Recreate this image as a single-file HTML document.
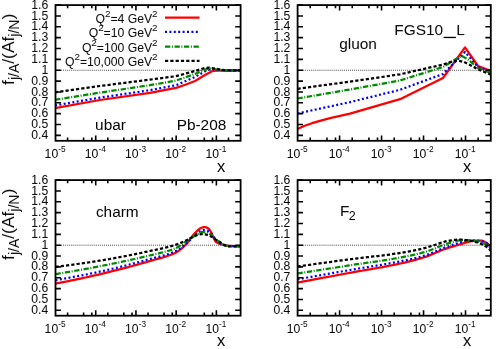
<!DOCTYPE html>
<html><head><meta charset="utf-8"><title>plot</title>
<style>html,body{margin:0;padding:0;background:#fff;}body{width:500px;height:349px;overflow:hidden;font-family:"Liberation Sans",sans-serif;}</style></head>
<body>
<svg width="500" height="349" viewBox="0 0 500 349" style="display:block">
<rect width="500" height="349" fill="#fff"/>
<defs><filter id="idf" x="0" y="0" width="500" height="349" filterUnits="userSpaceOnUse"><feOffset dx="0" dy="0"/></filter>
<clipPath id="c0"><rect x="55.5" y="5.1" width="185.10" height="135.70"/></clipPath>
<clipPath id="c1"><rect x="297.6" y="5.1" width="193.20" height="135.70"/></clipPath>
<clipPath id="c2"><rect x="55.5" y="180.1" width="185.10" height="135.60"/></clipPath>
<clipPath id="c3"><rect x="297.6" y="180.1" width="193.20" height="135.60"/></clipPath>
</defs>
<line x1="57" y1="70.24" x2="240.6" y2="70.24" stroke="#333" stroke-width="0.9" stroke-dasharray="1,1.04"/>
<polyline clip-path="url(#c0)" points="55.00,108.20 100.00,100.00 150.00,92.90 176.00,87.90 186.00,84.50 195.00,81.00 205.00,75.00 213.00,70.80 225.00,70.50 241.00,70.50" fill="none" stroke="#ff0000" stroke-width="2.25" stroke-linejoin="round"/>
<polyline clip-path="url(#c0)" points="55.00,105.40 100.00,97.60 150.00,90.20 176.00,85.20 195.00,77.00 207.00,70.30 212.00,69.00 220.00,70.00 226.00,70.40 241.00,70.50" fill="none" stroke="#0000ff" stroke-width="2.25" stroke-linejoin="round" stroke-dasharray="2,2.4"/>
<polyline clip-path="url(#c0)" points="55.00,99.80 100.00,92.60 150.00,85.20 176.00,80.60 195.00,74.00 205.00,69.50 210.00,68.40 218.00,69.50 226.00,70.40 241.00,70.50" fill="none" stroke="#008a00" stroke-width="2.25" stroke-linejoin="round" stroke-dasharray="5.3,1.6,1,1.6"/>
<polyline clip-path="url(#c0)" points="55.00,92.30 100.00,86.00 150.00,79.60 176.00,76.20 195.00,71.00 204.00,68.20 209.00,67.60 216.00,68.80 225.00,70.30 241.00,70.50" fill="none" stroke="#000000" stroke-width="2.25" stroke-linejoin="round" stroke-dasharray="3.2,2.1"/>
<path d="M55.5,135.37h5.4 M240.6,135.37h-5.4 M55.5,124.52h5.4 M240.6,124.52h-5.4 M55.5,113.66h5.4 M240.6,113.66h-5.4 M55.5,102.80h5.4 M240.6,102.80h-5.4 M55.5,91.95h5.4 M240.6,91.95h-5.4 M55.5,81.09h5.4 M240.6,81.09h-5.4 M55.5,70.24h5.4 M240.6,70.24h-5.4 M55.5,59.38h5.4 M240.6,59.38h-5.4 M55.5,48.52h5.4 M240.6,48.52h-5.4 M55.5,37.67h5.4 M240.6,37.67h-5.4 M55.5,26.81h5.4 M240.6,26.81h-5.4 M55.5,15.96h5.4 M240.6,15.96h-5.4 M55.5,5.10h5.4 M240.6,5.10h-5.4 M67.61,140.8v-3.2 M67.61,5.1v3.2 M83.61,140.8v-3.2 M83.61,5.1v3.2 M91.82,140.8v-3.2 M91.82,5.1v3.2 M95.72,140.8v-5.4 M95.72,5.1v5.4 M107.83,140.8v-3.2 M107.83,5.1v3.2 M123.83,140.8v-3.2 M123.83,5.1v3.2 M132.04,140.8v-3.2 M132.04,5.1v3.2 M135.94,140.8v-5.4 M135.94,5.1v5.4 M148.05,140.8v-3.2 M148.05,5.1v3.2 M164.06,140.8v-3.2 M164.06,5.1v3.2 M172.27,140.8v-3.2 M172.27,5.1v3.2 M176.16,140.8v-5.4 M176.16,5.1v5.4 M188.27,140.8v-3.2 M188.27,5.1v3.2 M204.28,140.8v-3.2 M204.28,5.1v3.2 M212.49,140.8v-3.2 M212.49,5.1v3.2 M216.38,140.8v-5.4 M216.38,5.1v5.4 M228.49,140.8v-3.2 M228.49,5.1v3.2" stroke="#000" stroke-width="1.6" fill="none"/>
<rect x="55.5" y="5.1" width="185.10" height="135.70" fill="none" stroke="#000" stroke-width="1.8"/>
<line x1="299" y1="70.24" x2="490.8" y2="70.24" stroke="#333" stroke-width="0.9" stroke-dasharray="1,1.04"/>
<polyline clip-path="url(#c1)" points="297.50,129.10 304.00,126.00 312.00,123.20 320.00,120.80 330.00,118.10 350.00,113.70 400.00,99.20 443.00,78.00 465.00,47.40 478.00,66.00 491.00,71.00" fill="none" stroke="#ff0000" stroke-width="2.25" stroke-linejoin="round"/>
<polyline clip-path="url(#c1)" points="297.50,113.50 350.00,102.10 400.00,89.80 443.00,74.00 458.00,59.00 465.00,52.00 478.00,67.00 491.00,72.00" fill="none" stroke="#0000ff" stroke-width="2.25" stroke-linejoin="round" stroke-dasharray="2,2.4"/>
<polyline clip-path="url(#c1)" points="297.50,98.50 350.00,89.50 400.00,80.50 443.00,67.00 456.00,59.00 462.00,56.00 468.00,59.50 478.00,68.00 491.00,73.00" fill="none" stroke="#008a00" stroke-width="2.25" stroke-linejoin="round" stroke-dasharray="5.3,1.6,1,1.6"/>
<polyline clip-path="url(#c1)" points="297.50,88.80 350.00,81.60 400.00,74.30 443.00,64.60 452.00,61.50 458.00,60.60 464.00,62.00 470.00,65.00 478.00,69.40 491.00,74.60" fill="none" stroke="#000000" stroke-width="2.25" stroke-linejoin="round" stroke-dasharray="3.2,2.1"/>
<path d="M297.6,135.37h5.4 M490.8,135.37h-5.4 M297.6,124.52h5.4 M490.8,124.52h-5.4 M297.6,113.66h5.4 M490.8,113.66h-5.4 M297.6,102.80h5.4 M490.8,102.80h-5.4 M297.6,91.95h5.4 M490.8,91.95h-5.4 M297.6,81.09h5.4 M490.8,81.09h-5.4 M297.6,70.24h5.4 M490.8,70.24h-5.4 M297.6,59.38h5.4 M490.8,59.38h-5.4 M297.6,48.52h5.4 M490.8,48.52h-5.4 M297.6,37.67h5.4 M490.8,37.67h-5.4 M297.6,26.81h5.4 M490.8,26.81h-5.4 M297.6,15.96h5.4 M490.8,15.96h-5.4 M297.6,5.10h5.4 M490.8,5.10h-5.4 M310.24,140.8v-3.2 M310.24,5.1v3.2 M326.94,140.8v-3.2 M326.94,5.1v3.2 M335.51,140.8v-3.2 M335.51,5.1v3.2 M339.58,140.8v-5.4 M339.58,5.1v5.4 M352.22,140.8v-3.2 M352.22,5.1v3.2 M368.92,140.8v-3.2 M368.92,5.1v3.2 M377.49,140.8v-3.2 M377.49,5.1v3.2 M381.56,140.8v-5.4 M381.56,5.1v5.4 M394.20,140.8v-3.2 M394.20,5.1v3.2 M410.91,140.8v-3.2 M410.91,5.1v3.2 M419.48,140.8v-3.2 M419.48,5.1v3.2 M423.54,140.8v-5.4 M423.54,5.1v5.4 M436.18,140.8v-3.2 M436.18,5.1v3.2 M452.89,140.8v-3.2 M452.89,5.1v3.2 M461.46,140.8v-3.2 M461.46,5.1v3.2 M465.52,140.8v-5.4 M465.52,5.1v5.4 M478.16,140.8v-3.2 M478.16,5.1v3.2" stroke="#000" stroke-width="1.6" fill="none"/>
<rect x="297.6" y="5.1" width="193.20" height="135.70" fill="none" stroke="#000" stroke-width="1.8"/>
<line x1="57" y1="245.19" x2="240.6" y2="245.19" stroke="#333" stroke-width="0.9" stroke-dasharray="1,1.04"/>
<polyline clip-path="url(#c2)" points="55.50,283.60 57.50,283.22 59.50,282.84 61.50,282.46 63.50,282.07 65.50,281.68 67.50,281.28 69.50,280.88 71.50,280.47 73.50,280.06 75.50,279.64 77.50,279.22 79.50,278.79 81.50,278.36 83.50,277.93 85.50,277.49 87.50,277.05 89.50,276.61 91.50,276.16 93.50,275.70 95.50,275.24 97.50,274.78 99.50,274.32 101.50,273.85 103.50,273.37 105.50,272.89 107.50,272.41 109.50,271.92 111.50,271.43 113.50,270.93 115.50,270.42 117.50,269.91 119.50,269.40 121.50,268.88 123.50,268.36 125.50,267.83 127.50,267.30 129.50,266.76 131.50,266.22 133.50,265.68 135.50,265.12 137.50,264.57 139.50,264.01 141.50,263.45 143.50,262.88 145.50,262.30 147.50,261.73 149.50,261.15 151.50,260.57 153.50,260.02 155.50,259.48 157.50,258.95 159.50,258.41 161.50,257.86 163.50,257.28 165.50,256.67 167.50,256.02 169.50,255.31 171.50,254.54 173.50,253.69 175.50,252.75 177.50,251.60 179.50,250.21 181.50,248.62 183.50,246.88 185.50,245.01 187.50,242.71 189.50,240.05 191.50,237.30 193.50,234.69 195.50,232.48 197.50,230.41 199.50,228.78 201.50,227.78 203.50,227.09 205.50,227.15 207.50,228.04 209.50,229.46 211.50,233.06 213.50,237.82 215.50,241.51 217.50,242.95 219.50,243.82 221.50,244.49 223.50,245.02 225.50,245.37 227.50,245.66 229.50,245.88 231.50,245.99 233.50,246.00 235.50,246.00 237.50,246.00 239.50,246.00 241.00,246.00" fill="none" stroke="#ff0000" stroke-width="2.25" stroke-linejoin="round"/>
<polyline clip-path="url(#c2)" points="55.50,280.10 57.50,279.77 59.50,279.44 61.50,279.10 63.50,278.76 65.50,278.41 67.50,278.05 69.50,277.69 71.50,277.33 73.50,276.96 75.50,276.58 77.50,276.20 79.50,275.82 81.50,275.43 83.50,275.03 85.50,274.63 87.50,274.23 89.50,273.82 91.50,273.40 93.50,272.99 95.50,272.56 97.50,272.14 99.50,271.71 101.50,271.27 103.50,270.83 105.50,270.38 107.50,269.92 109.50,269.46 111.50,268.99 113.50,268.52 115.50,268.04 117.50,267.55 119.50,267.06 121.50,266.56 123.50,266.05 125.50,265.55 127.50,265.03 129.50,264.52 131.50,263.99 133.50,263.47 135.50,262.94 137.50,262.41 139.50,261.87 141.50,261.33 143.50,260.78 145.50,260.24 147.50,259.69 149.50,259.14 151.50,258.59 153.50,258.07 155.50,257.56 157.50,257.05 159.50,256.55 161.50,256.02 163.50,255.48 165.50,254.91 167.50,254.30 169.50,253.64 171.50,252.92 173.50,252.14 175.50,251.27 177.50,250.22 179.50,248.96 181.50,247.54 183.50,246.01 185.50,244.41 187.50,242.66 189.50,240.61 191.50,238.44 193.50,236.37 195.50,234.58 197.50,232.90 199.50,231.55 201.50,230.63 203.50,230.03 205.50,230.18 207.50,230.84 209.50,231.79 211.50,233.85 213.50,236.71 215.50,239.50 217.50,241.37 219.50,242.76 221.50,243.96 223.50,244.87 225.50,245.40 227.50,245.77 229.50,246.06 231.50,246.19 233.50,246.20 235.50,246.20 237.50,246.20 239.50,246.20 241.00,246.20" fill="none" stroke="#0000ff" stroke-width="2.25" stroke-linejoin="round" stroke-dasharray="2,2.4"/>
<polyline clip-path="url(#c2)" points="55.50,274.10 57.50,273.78 59.50,273.46 61.50,273.13 63.50,272.80 65.50,272.46 67.50,272.13 69.50,271.79 71.50,271.44 73.50,271.09 75.50,270.74 77.50,270.39 79.50,270.03 81.50,269.67 83.50,269.31 85.50,268.94 87.50,268.57 89.50,268.20 91.50,267.83 93.50,267.45 95.50,267.07 97.50,266.68 99.50,266.30 101.50,265.91 103.50,265.52 105.50,265.12 107.50,264.72 109.50,264.33 111.50,263.92 113.50,263.52 115.50,263.11 117.50,262.70 119.50,262.28 121.50,261.86 123.50,261.44 125.50,261.01 127.50,260.58 129.50,260.15 131.50,259.71 133.50,259.26 135.50,258.81 137.50,258.36 139.50,257.90 141.50,257.44 143.50,256.97 145.50,256.49 147.50,256.01 149.50,255.52 151.50,255.04 153.50,254.57 155.50,254.11 157.50,253.65 159.50,253.18 161.50,252.70 163.50,252.19 165.50,251.66 167.50,251.09 169.50,250.48 171.50,249.81 173.50,249.09 175.50,248.29 177.50,247.26 179.50,246.02 181.50,244.63 183.50,243.16 185.50,241.71 187.50,240.32 189.50,239.02 191.50,237.70 193.50,236.42 195.50,235.26 197.50,234.18 199.50,233.06 201.50,232.23 203.50,232.02 205.50,232.34 207.50,232.95 209.50,233.72 211.50,235.07 213.50,236.94 215.50,238.92 217.50,240.65 219.50,241.99 221.50,243.31 223.50,244.49 225.50,245.39 227.50,245.89 229.50,246.22 231.50,246.39 233.50,246.40 235.50,246.40 237.50,246.40 239.50,246.40 241.00,246.40" fill="none" stroke="#008a00" stroke-width="2.25" stroke-linejoin="round" stroke-dasharray="5.3,1.6,1,1.6"/>
<polyline clip-path="url(#c2)" points="55.50,266.80 57.50,266.57 59.50,266.33 61.50,266.09 63.50,265.84 65.50,265.59 67.50,265.34 69.50,265.08 71.50,264.81 73.50,264.54 75.50,264.27 77.50,263.99 79.50,263.71 81.50,263.43 83.50,263.14 85.50,262.84 87.50,262.54 89.50,262.24 91.50,261.94 93.50,261.63 95.50,261.32 97.50,261.00 99.50,260.68 101.50,260.36 103.50,260.03 105.50,259.69 107.50,259.35 109.50,259.00 111.50,258.65 113.50,258.30 115.50,257.93 117.50,257.56 119.50,257.19 121.50,256.82 123.50,256.43 125.50,256.05 127.50,255.66 129.50,255.26 131.50,254.86 133.50,254.46 135.50,254.05 137.50,253.64 139.50,253.23 141.50,252.81 143.50,252.39 145.50,251.96 147.50,251.54 149.50,251.11 151.50,250.68 153.50,250.25 155.50,249.83 157.50,249.41 159.50,248.98 161.50,248.54 163.50,248.08 165.50,247.61 167.50,247.12 169.50,246.60 171.50,246.05 173.50,245.46 175.50,244.84 177.50,244.13 179.50,243.34 181.50,242.49 183.50,241.59 185.50,240.66 187.50,239.73 189.50,238.75 191.50,237.64 193.50,236.57 195.50,235.68 197.50,234.99 199.50,234.36 201.50,234.02 203.50,234.10 205.50,234.48 207.50,235.03 209.50,235.67 211.50,236.67 213.50,237.99 215.50,239.41 217.50,240.72 219.50,241.88 221.50,243.17 223.50,244.43 225.50,245.50 227.50,246.20 229.50,246.41 231.50,246.44 233.50,246.46 235.50,246.48 237.50,246.49 239.50,246.50 241.00,246.50" fill="none" stroke="#000000" stroke-width="2.25" stroke-linejoin="round" stroke-dasharray="3.2,2.1"/>
<path d="M55.5,310.28h5.4 M240.6,310.28h-5.4 M55.5,299.43h5.4 M240.6,299.43h-5.4 M55.5,288.58h5.4 M240.6,288.58h-5.4 M55.5,277.73h5.4 M240.6,277.73h-5.4 M55.5,266.88h5.4 M240.6,266.88h-5.4 M55.5,256.04h5.4 M240.6,256.04h-5.4 M55.5,245.19h5.4 M240.6,245.19h-5.4 M55.5,234.34h5.4 M240.6,234.34h-5.4 M55.5,223.49h5.4 M240.6,223.49h-5.4 M55.5,212.64h5.4 M240.6,212.64h-5.4 M55.5,201.80h5.4 M240.6,201.80h-5.4 M55.5,190.95h5.4 M240.6,190.95h-5.4 M55.5,180.10h5.4 M240.6,180.10h-5.4 M67.61,315.7v-3.2 M67.61,180.1v3.2 M83.61,315.7v-3.2 M83.61,180.1v3.2 M91.82,315.7v-3.2 M91.82,180.1v3.2 M95.72,315.7v-5.4 M95.72,180.1v5.4 M107.83,315.7v-3.2 M107.83,180.1v3.2 M123.83,315.7v-3.2 M123.83,180.1v3.2 M132.04,315.7v-3.2 M132.04,180.1v3.2 M135.94,315.7v-5.4 M135.94,180.1v5.4 M148.05,315.7v-3.2 M148.05,180.1v3.2 M164.06,315.7v-3.2 M164.06,180.1v3.2 M172.27,315.7v-3.2 M172.27,180.1v3.2 M176.16,315.7v-5.4 M176.16,180.1v5.4 M188.27,315.7v-3.2 M188.27,180.1v3.2 M204.28,315.7v-3.2 M204.28,180.1v3.2 M212.49,315.7v-3.2 M212.49,180.1v3.2 M216.38,315.7v-5.4 M216.38,180.1v5.4 M228.49,315.7v-3.2 M228.49,180.1v3.2" stroke="#000" stroke-width="1.6" fill="none"/>
<rect x="55.5" y="180.1" width="185.10" height="135.60" fill="none" stroke="#000" stroke-width="1.8"/>
<line x1="299" y1="245.19" x2="490.8" y2="245.19" stroke="#333" stroke-width="0.9" stroke-dasharray="1,1.04"/>
<polyline clip-path="url(#c3)" points="297.50,282.60 299.50,282.22 301.50,281.85 303.50,281.47 305.50,281.10 307.50,280.72 309.50,280.35 311.50,279.97 313.50,279.60 315.50,279.22 317.50,278.85 319.50,278.48 321.50,278.10 323.50,277.73 325.50,277.36 327.50,276.98 329.50,276.61 331.50,276.24 333.50,275.86 335.50,275.49 337.50,275.12 339.50,274.75 341.50,274.38 343.50,274.01 345.50,273.63 347.50,273.26 349.50,272.89 351.50,272.52 353.50,272.16 355.50,271.80 357.50,271.45 359.50,271.10 361.50,270.75 363.50,270.41 365.50,270.06 367.50,269.72 369.50,269.38 371.50,269.03 373.50,268.69 375.50,268.34 377.50,267.99 379.50,267.63 381.50,267.27 383.50,266.91 385.50,266.54 387.50,266.16 389.50,265.77 391.50,265.38 393.50,264.98 395.50,264.57 397.50,264.14 399.50,263.71 401.50,263.27 403.50,262.81 405.50,262.34 407.50,261.87 409.50,261.37 411.50,260.87 413.50,260.35 415.50,259.81 417.50,259.25 419.50,258.68 421.50,258.09 423.50,257.47 425.50,256.84 427.50,256.14 429.50,255.37 431.50,254.56 433.50,253.71 435.50,252.84 437.50,251.98 439.50,251.13 441.50,250.31 443.50,249.54 445.50,248.83 447.50,248.17 449.50,247.54 451.50,246.94 453.50,246.35 455.50,245.75 457.50,245.15 459.50,244.52 461.50,243.89 463.50,243.26 465.50,242.67 467.50,242.13 469.50,241.59 471.50,241.03 473.50,240.61 475.50,240.50 477.50,240.50 479.50,240.50 481.50,240.53 483.50,241.15 485.50,242.22 487.50,243.52 489.50,245.36 491.00,247.00" fill="none" stroke="#ff0000" stroke-width="2.25" stroke-linejoin="round"/>
<polyline clip-path="url(#c3)" points="297.50,279.30 299.50,278.94 301.50,278.58 303.50,278.22 305.50,277.86 307.50,277.51 309.50,277.15 311.50,276.79 313.50,276.44 315.50,276.08 317.50,275.72 319.50,275.37 321.50,275.01 323.50,274.66 325.50,274.31 327.50,273.95 329.50,273.60 331.50,273.25 333.50,272.89 335.50,272.54 337.50,272.19 339.50,271.84 341.50,271.49 343.50,271.14 345.50,270.79 347.50,270.44 349.50,270.09 351.50,269.74 353.50,269.40 355.50,269.06 357.50,268.73 359.50,268.39 361.50,268.07 363.50,267.74 365.50,267.42 367.50,267.09 369.50,266.77 371.50,266.45 373.50,266.12 375.50,265.79 377.50,265.46 379.50,265.13 381.50,264.80 383.50,264.45 385.50,264.11 387.50,263.76 389.50,263.40 391.50,263.04 393.50,262.67 395.50,262.29 397.50,261.90 399.50,261.50 401.50,261.10 403.50,260.69 405.50,260.27 407.50,259.85 409.50,259.42 411.50,258.98 413.50,258.52 415.50,258.05 417.50,257.56 419.50,257.04 421.50,256.51 423.50,255.94 425.50,255.35 427.50,254.68 429.50,253.94 431.50,253.14 433.50,252.30 435.50,251.44 437.50,250.56 439.50,249.70 441.50,248.86 443.50,248.06 445.50,247.32 447.50,246.61 449.50,245.92 451.50,245.24 453.50,244.59 455.50,243.96 457.50,243.35 459.50,242.66 461.50,241.93 463.50,241.27 465.50,240.76 467.50,240.51 469.50,240.50 471.50,240.50 473.50,240.50 475.50,240.50 477.50,240.59 479.50,240.92 481.50,241.38 483.50,241.92 485.50,242.70 487.50,243.84 489.50,245.94 491.00,248.00" fill="none" stroke="#0000ff" stroke-width="2.25" stroke-linejoin="round" stroke-dasharray="2,2.4"/>
<polyline clip-path="url(#c3)" points="297.50,273.50 299.50,273.19 301.50,272.87 303.50,272.56 305.50,272.24 307.50,271.93 309.50,271.62 311.50,271.30 313.50,270.99 315.50,270.68 317.50,270.36 319.50,270.05 321.50,269.74 323.50,269.42 325.50,269.11 327.50,268.80 329.50,268.49 331.50,268.18 333.50,267.86 335.50,267.55 337.50,267.24 339.50,266.93 341.50,266.62 343.50,266.31 345.50,266.00 347.50,265.69 349.50,265.38 351.50,265.07 353.50,264.77 355.50,264.47 357.50,264.17 359.50,263.88 361.50,263.59 363.50,263.30 365.50,263.01 367.50,262.73 369.50,262.44 371.50,262.15 373.50,261.86 375.50,261.57 377.50,261.28 379.50,260.98 381.50,260.68 383.50,260.38 385.50,260.07 387.50,259.75 389.50,259.43 391.50,259.10 393.50,258.76 395.50,258.41 397.50,258.06 399.50,257.69 401.50,257.32 403.50,256.94 405.50,256.55 407.50,256.15 409.50,255.74 411.50,255.32 413.50,254.88 415.50,254.43 417.50,253.96 419.50,253.47 421.50,252.95 423.50,252.42 425.50,251.86 427.50,251.23 429.50,250.53 431.50,249.79 433.50,249.00 435.50,248.19 437.50,247.38 439.50,246.57 441.50,245.78 443.50,245.03 445.50,244.33 447.50,243.61 449.50,242.89 451.50,242.21 453.50,241.60 455.50,241.10 457.50,240.70 459.50,240.33 461.50,240.07 463.50,240.00 465.50,240.06 467.50,240.19 469.50,240.36 471.50,240.55 473.50,240.77 475.50,241.07 477.50,241.45 479.50,241.91 481.50,242.44 483.50,243.16 485.50,244.12 487.50,245.35 489.50,247.24 491.00,249.00" fill="none" stroke="#008a00" stroke-width="2.25" stroke-linejoin="round" stroke-dasharray="5.3,1.6,1,1.6"/>
<polyline clip-path="url(#c3)" points="297.50,266.50 299.50,266.21 301.50,265.93 303.50,265.65 305.50,265.36 307.50,265.08 309.50,264.80 311.50,264.52 313.50,264.24 315.50,263.96 317.50,263.69 319.50,263.41 321.50,263.13 323.50,262.86 325.50,262.58 327.50,262.31 329.50,262.04 331.50,261.77 333.50,261.50 335.50,261.23 337.50,260.96 339.50,260.69 341.50,260.42 343.50,260.16 345.50,259.89 347.50,259.63 349.50,259.37 351.50,259.10 353.50,258.85 355.50,258.60 357.50,258.36 359.50,258.12 361.50,257.88 363.50,257.65 365.50,257.42 367.50,257.19 369.50,256.96 371.50,256.73 373.50,256.49 375.50,256.26 377.50,256.03 379.50,255.79 381.50,255.55 383.50,255.30 385.50,255.05 387.50,254.79 389.50,254.53 391.50,254.26 393.50,253.98 395.50,253.69 397.50,253.39 399.50,253.08 401.50,252.76 403.50,252.43 405.50,252.09 407.50,251.74 409.50,251.37 411.50,250.99 413.50,250.60 415.50,250.19 417.50,249.76 419.50,249.32 421.50,248.86 423.50,248.37 425.50,247.87 427.50,247.28 429.50,246.64 431.50,245.97 433.50,245.35 435.50,244.70 437.50,244.02 439.50,243.33 441.50,242.66 443.50,242.02 445.50,241.44 447.50,240.96 449.50,240.58 451.50,240.29 453.50,240.01 455.50,239.78 457.50,239.64 459.50,239.60 461.50,239.67 463.50,239.82 465.50,240.02 467.50,240.24 469.50,240.51 471.50,240.88 473.50,241.35 475.50,241.89 477.50,242.51 479.50,243.17 481.50,243.99 483.50,245.00 485.50,246.18 487.50,247.62 489.50,249.45 491.00,251.00" fill="none" stroke="#000000" stroke-width="2.25" stroke-linejoin="round" stroke-dasharray="3.2,2.1"/>
<path d="M297.6,310.28h5.4 M490.8,310.28h-5.4 M297.6,299.43h5.4 M490.8,299.43h-5.4 M297.6,288.58h5.4 M490.8,288.58h-5.4 M297.6,277.73h5.4 M490.8,277.73h-5.4 M297.6,266.88h5.4 M490.8,266.88h-5.4 M297.6,256.04h5.4 M490.8,256.04h-5.4 M297.6,245.19h5.4 M490.8,245.19h-5.4 M297.6,234.34h5.4 M490.8,234.34h-5.4 M297.6,223.49h5.4 M490.8,223.49h-5.4 M297.6,212.64h5.4 M490.8,212.64h-5.4 M297.6,201.80h5.4 M490.8,201.80h-5.4 M297.6,190.95h5.4 M490.8,190.95h-5.4 M297.6,180.10h5.4 M490.8,180.10h-5.4 M310.24,315.7v-3.2 M310.24,180.1v3.2 M326.94,315.7v-3.2 M326.94,180.1v3.2 M335.51,315.7v-3.2 M335.51,180.1v3.2 M339.58,315.7v-5.4 M339.58,180.1v5.4 M352.22,315.7v-3.2 M352.22,180.1v3.2 M368.92,315.7v-3.2 M368.92,180.1v3.2 M377.49,315.7v-3.2 M377.49,180.1v3.2 M381.56,315.7v-5.4 M381.56,180.1v5.4 M394.20,315.7v-3.2 M394.20,180.1v3.2 M410.91,315.7v-3.2 M410.91,180.1v3.2 M419.48,315.7v-3.2 M419.48,180.1v3.2 M423.54,315.7v-5.4 M423.54,180.1v5.4 M436.18,315.7v-3.2 M436.18,180.1v3.2 M452.89,315.7v-3.2 M452.89,180.1v3.2 M461.46,315.7v-3.2 M461.46,180.1v3.2 M465.52,315.7v-5.4 M465.52,180.1v5.4 M478.16,315.7v-3.2 M478.16,180.1v3.2" stroke="#000" stroke-width="1.6" fill="none"/>
<rect x="297.6" y="180.1" width="193.20" height="135.60" fill="none" stroke="#000" stroke-width="1.8"/>
<rect x="443.6" y="36.8" width="12.3" height="1.3" fill="#000"/>
<line x1="165" y1="17.5" x2="199.5" y2="17.5" stroke="#ff0000" stroke-width="2.25"/>
<line x1="165" y1="31.8" x2="199.5" y2="31.8" stroke="#0000ff" stroke-width="2.25" stroke-dasharray="2,2.4"/>
<line x1="165" y1="46.5" x2="199.5" y2="46.5" stroke="#008a00" stroke-width="2.25" stroke-dasharray="5.3,1.6,1,1.6"/>
<line x1="165" y1="60.8" x2="199.5" y2="60.8" stroke="#000000" stroke-width="2.25" stroke-dasharray="3.2,2.1"/>
<g filter="url(#idf)" transform="rotate(0.02 250 175)">
<text x="48.3" y="138.97" text-anchor="end" font-family="Liberation Sans, sans-serif" font-size="12.2">0.4</text>
<text x="48.3" y="128.12" text-anchor="end" font-family="Liberation Sans, sans-serif" font-size="12.2">0.5</text>
<text x="48.3" y="117.26" text-anchor="end" font-family="Liberation Sans, sans-serif" font-size="12.2">0.6</text>
<text x="48.3" y="106.40" text-anchor="end" font-family="Liberation Sans, sans-serif" font-size="12.2">0.7</text>
<text x="48.3" y="95.55" text-anchor="end" font-family="Liberation Sans, sans-serif" font-size="12.2">0.8</text>
<text x="48.3" y="84.69" text-anchor="end" font-family="Liberation Sans, sans-serif" font-size="12.2">0.9</text>
<text x="48.3" y="73.84" text-anchor="end" font-family="Liberation Sans, sans-serif" font-size="12.2">1</text>
<text x="48.3" y="62.98" text-anchor="end" font-family="Liberation Sans, sans-serif" font-size="12.2">1.1</text>
<text x="48.3" y="52.12" text-anchor="end" font-family="Liberation Sans, sans-serif" font-size="12.2">1.2</text>
<text x="48.3" y="41.27" text-anchor="end" font-family="Liberation Sans, sans-serif" font-size="12.2">1.3</text>
<text x="48.3" y="30.41" text-anchor="end" font-family="Liberation Sans, sans-serif" font-size="12.2">1.4</text>
<text x="48.3" y="19.56" text-anchor="end" font-family="Liberation Sans, sans-serif" font-size="12.2">1.5</text>
<text x="48.3" y="8.70" text-anchor="end" font-family="Liberation Sans, sans-serif" font-size="12.2">1.6</text>
<text x="55.10" y="158.4" text-anchor="middle" font-family="Liberation Sans, sans-serif" font-size="12.2">10<tspan dy="-6.7" font-size="8.3">-5</tspan></text>
<text x="95.32" y="158.4" text-anchor="middle" font-family="Liberation Sans, sans-serif" font-size="12.2">10<tspan dy="-6.7" font-size="8.3">-4</tspan></text>
<text x="135.54" y="158.4" text-anchor="middle" font-family="Liberation Sans, sans-serif" font-size="12.2">10<tspan dy="-6.7" font-size="8.3">-3</tspan></text>
<text x="175.76" y="158.4" text-anchor="middle" font-family="Liberation Sans, sans-serif" font-size="12.2">10<tspan dy="-6.7" font-size="8.3">-2</tspan></text>
<text x="215.98" y="158.4" text-anchor="middle" font-family="Liberation Sans, sans-serif" font-size="12.2">10<tspan dy="-6.7" font-size="8.3">-1</tspan></text>
<text x="221.2" y="171.5" text-anchor="middle" font-family="Liberation Sans, sans-serif" font-size="16.5">x</text>
<text transform="translate(14.4,84.90) rotate(-90)" font-family="Liberation Sans, sans-serif" font-size="17.4">f<tspan dx="0" dy="5" font-size="14">j/A</tspan><tspan dx="0" dy="-5">/(Af</tspan><tspan dx="0" dy="5" font-size="14">j/N</tspan><tspan dx="0" dy="-5">)</tspan></text>
<text x="290.40000000000003" y="138.97" text-anchor="end" font-family="Liberation Sans, sans-serif" font-size="12.2">0.4</text>
<text x="290.40000000000003" y="128.12" text-anchor="end" font-family="Liberation Sans, sans-serif" font-size="12.2">0.5</text>
<text x="290.40000000000003" y="117.26" text-anchor="end" font-family="Liberation Sans, sans-serif" font-size="12.2">0.6</text>
<text x="290.40000000000003" y="106.40" text-anchor="end" font-family="Liberation Sans, sans-serif" font-size="12.2">0.7</text>
<text x="290.40000000000003" y="95.55" text-anchor="end" font-family="Liberation Sans, sans-serif" font-size="12.2">0.8</text>
<text x="290.40000000000003" y="84.69" text-anchor="end" font-family="Liberation Sans, sans-serif" font-size="12.2">0.9</text>
<text x="290.40000000000003" y="73.84" text-anchor="end" font-family="Liberation Sans, sans-serif" font-size="12.2">1</text>
<text x="290.40000000000003" y="62.98" text-anchor="end" font-family="Liberation Sans, sans-serif" font-size="12.2">1.1</text>
<text x="290.40000000000003" y="52.12" text-anchor="end" font-family="Liberation Sans, sans-serif" font-size="12.2">1.2</text>
<text x="290.40000000000003" y="41.27" text-anchor="end" font-family="Liberation Sans, sans-serif" font-size="12.2">1.3</text>
<text x="290.40000000000003" y="30.41" text-anchor="end" font-family="Liberation Sans, sans-serif" font-size="12.2">1.4</text>
<text x="290.40000000000003" y="19.56" text-anchor="end" font-family="Liberation Sans, sans-serif" font-size="12.2">1.5</text>
<text x="290.40000000000003" y="8.70" text-anchor="end" font-family="Liberation Sans, sans-serif" font-size="12.2">1.6</text>
<text x="297.20" y="158.4" text-anchor="middle" font-family="Liberation Sans, sans-serif" font-size="12.2">10<tspan dy="-6.7" font-size="8.3">-5</tspan></text>
<text x="339.18" y="158.4" text-anchor="middle" font-family="Liberation Sans, sans-serif" font-size="12.2">10<tspan dy="-6.7" font-size="8.3">-4</tspan></text>
<text x="381.16" y="158.4" text-anchor="middle" font-family="Liberation Sans, sans-serif" font-size="12.2">10<tspan dy="-6.7" font-size="8.3">-3</tspan></text>
<text x="423.14" y="158.4" text-anchor="middle" font-family="Liberation Sans, sans-serif" font-size="12.2">10<tspan dy="-6.7" font-size="8.3">-2</tspan></text>
<text x="465.12" y="158.4" text-anchor="middle" font-family="Liberation Sans, sans-serif" font-size="12.2">10<tspan dy="-6.7" font-size="8.3">-1</tspan></text>
<text x="467.1" y="171.5" text-anchor="middle" font-family="Liberation Sans, sans-serif" font-size="16.5">x</text>
<text x="48.3" y="313.88" text-anchor="end" font-family="Liberation Sans, sans-serif" font-size="12.2">0.4</text>
<text x="48.3" y="303.03" text-anchor="end" font-family="Liberation Sans, sans-serif" font-size="12.2">0.5</text>
<text x="48.3" y="292.18" text-anchor="end" font-family="Liberation Sans, sans-serif" font-size="12.2">0.6</text>
<text x="48.3" y="281.33" text-anchor="end" font-family="Liberation Sans, sans-serif" font-size="12.2">0.7</text>
<text x="48.3" y="270.48" text-anchor="end" font-family="Liberation Sans, sans-serif" font-size="12.2">0.8</text>
<text x="48.3" y="259.64" text-anchor="end" font-family="Liberation Sans, sans-serif" font-size="12.2">0.9</text>
<text x="48.3" y="248.79" text-anchor="end" font-family="Liberation Sans, sans-serif" font-size="12.2">1</text>
<text x="48.3" y="237.94" text-anchor="end" font-family="Liberation Sans, sans-serif" font-size="12.2">1.1</text>
<text x="48.3" y="227.09" text-anchor="end" font-family="Liberation Sans, sans-serif" font-size="12.2">1.2</text>
<text x="48.3" y="216.24" text-anchor="end" font-family="Liberation Sans, sans-serif" font-size="12.2">1.3</text>
<text x="48.3" y="205.40" text-anchor="end" font-family="Liberation Sans, sans-serif" font-size="12.2">1.4</text>
<text x="48.3" y="194.55" text-anchor="end" font-family="Liberation Sans, sans-serif" font-size="12.2">1.5</text>
<text x="48.3" y="183.70" text-anchor="end" font-family="Liberation Sans, sans-serif" font-size="12.2">1.6</text>
<text x="55.10" y="333.3" text-anchor="middle" font-family="Liberation Sans, sans-serif" font-size="12.2">10<tspan dy="-6.7" font-size="8.3">-5</tspan></text>
<text x="95.32" y="333.3" text-anchor="middle" font-family="Liberation Sans, sans-serif" font-size="12.2">10<tspan dy="-6.7" font-size="8.3">-4</tspan></text>
<text x="135.54" y="333.3" text-anchor="middle" font-family="Liberation Sans, sans-serif" font-size="12.2">10<tspan dy="-6.7" font-size="8.3">-3</tspan></text>
<text x="175.76" y="333.3" text-anchor="middle" font-family="Liberation Sans, sans-serif" font-size="12.2">10<tspan dy="-6.7" font-size="8.3">-2</tspan></text>
<text x="215.98" y="333.3" text-anchor="middle" font-family="Liberation Sans, sans-serif" font-size="12.2">10<tspan dy="-6.7" font-size="8.3">-1</tspan></text>
<text x="221.2" y="346.4" text-anchor="middle" font-family="Liberation Sans, sans-serif" font-size="16.5">x</text>
<text transform="translate(14.4,259.90) rotate(-90)" font-family="Liberation Sans, sans-serif" font-size="17.4">f<tspan dx="0" dy="5" font-size="14">j/A</tspan><tspan dx="0" dy="-5">/(Af</tspan><tspan dx="0" dy="5" font-size="14">j/N</tspan><tspan dx="0" dy="-5">)</tspan></text>
<text x="290.40000000000003" y="313.88" text-anchor="end" font-family="Liberation Sans, sans-serif" font-size="12.2">0.4</text>
<text x="290.40000000000003" y="303.03" text-anchor="end" font-family="Liberation Sans, sans-serif" font-size="12.2">0.5</text>
<text x="290.40000000000003" y="292.18" text-anchor="end" font-family="Liberation Sans, sans-serif" font-size="12.2">0.6</text>
<text x="290.40000000000003" y="281.33" text-anchor="end" font-family="Liberation Sans, sans-serif" font-size="12.2">0.7</text>
<text x="290.40000000000003" y="270.48" text-anchor="end" font-family="Liberation Sans, sans-serif" font-size="12.2">0.8</text>
<text x="290.40000000000003" y="259.64" text-anchor="end" font-family="Liberation Sans, sans-serif" font-size="12.2">0.9</text>
<text x="290.40000000000003" y="248.79" text-anchor="end" font-family="Liberation Sans, sans-serif" font-size="12.2">1</text>
<text x="290.40000000000003" y="237.94" text-anchor="end" font-family="Liberation Sans, sans-serif" font-size="12.2">1.1</text>
<text x="290.40000000000003" y="227.09" text-anchor="end" font-family="Liberation Sans, sans-serif" font-size="12.2">1.2</text>
<text x="290.40000000000003" y="216.24" text-anchor="end" font-family="Liberation Sans, sans-serif" font-size="12.2">1.3</text>
<text x="290.40000000000003" y="205.40" text-anchor="end" font-family="Liberation Sans, sans-serif" font-size="12.2">1.4</text>
<text x="290.40000000000003" y="194.55" text-anchor="end" font-family="Liberation Sans, sans-serif" font-size="12.2">1.5</text>
<text x="290.40000000000003" y="183.70" text-anchor="end" font-family="Liberation Sans, sans-serif" font-size="12.2">1.6</text>
<text x="297.20" y="333.3" text-anchor="middle" font-family="Liberation Sans, sans-serif" font-size="12.2">10<tspan dy="-6.7" font-size="8.3">-5</tspan></text>
<text x="339.18" y="333.3" text-anchor="middle" font-family="Liberation Sans, sans-serif" font-size="12.2">10<tspan dy="-6.7" font-size="8.3">-4</tspan></text>
<text x="381.16" y="333.3" text-anchor="middle" font-family="Liberation Sans, sans-serif" font-size="12.2">10<tspan dy="-6.7" font-size="8.3">-3</tspan></text>
<text x="423.14" y="333.3" text-anchor="middle" font-family="Liberation Sans, sans-serif" font-size="12.2">10<tspan dy="-6.7" font-size="8.3">-2</tspan></text>
<text x="465.12" y="333.3" text-anchor="middle" font-family="Liberation Sans, sans-serif" font-size="12.2">10<tspan dy="-6.7" font-size="8.3">-1</tspan></text>
<text x="467.1" y="346.4" text-anchor="middle" font-family="Liberation Sans, sans-serif" font-size="16.5">x</text>
<text x="110.5" y="129.5" text-anchor="middle" font-family="Liberation Sans, sans-serif" font-size="15.4">ubar</text>
<text x="201.5" y="129.5" text-anchor="middle" font-family="Liberation Sans, sans-serif" font-size="15.4">Pb-208</text>
<text x="358" y="49" text-anchor="middle" font-family="Liberation Sans, sans-serif" font-size="15.4">gluon</text>
<text x="394.3" y="35.4" text-anchor="start" font-family="Liberation Sans, sans-serif" font-size="15.4">FGS10</text>
<text x="456.2" y="35.4" text-anchor="start" font-family="Liberation Sans, sans-serif" font-size="15.4">L</text>
<text x="117.3" y="217.4" text-anchor="middle" font-family="Liberation Sans, sans-serif" font-size="15.4">charm</text>
<text x="340" y="216" text-anchor="start" font-family="Liberation Sans, sans-serif" font-size="15.4">F<tspan dx="-0.6" dy="4.2" font-size="12.5">2</tspan></text>
<text x="157.5" y="22.7" text-anchor="end" font-family="Liberation Sans, sans-serif" font-size="12.2">Q<tspan dy="-6.2" font-size="9.8">2</tspan><tspan dy="6.2">=4 GeV</tspan><tspan dy="-6.2" font-size="9.8">2</tspan></text>
<text x="157.5" y="37.0" text-anchor="end" font-family="Liberation Sans, sans-serif" font-size="12.2">Q<tspan dy="-6.2" font-size="9.8">2</tspan><tspan dy="6.2">=10 GeV</tspan><tspan dy="-6.2" font-size="9.8">2</tspan></text>
<text x="157.5" y="51.7" text-anchor="end" font-family="Liberation Sans, sans-serif" font-size="12.2">Q<tspan dy="-6.2" font-size="9.8">2</tspan><tspan dy="6.2">=100 GeV</tspan><tspan dy="-6.2" font-size="9.8">2</tspan></text>
<text x="157.5" y="66.0" text-anchor="end" font-family="Liberation Sans, sans-serif" font-size="12.2">Q<tspan dy="-6.2" font-size="9.8">2</tspan><tspan dy="6.2">=10,000 GeV</tspan><tspan dy="-6.2" font-size="9.8">2</tspan></text>
</g>
</svg>
</body></html>
